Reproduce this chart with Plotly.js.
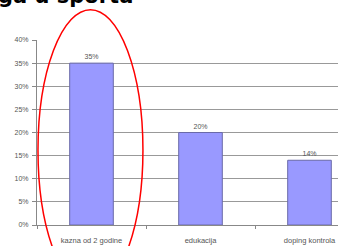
<!DOCTYPE html>
<html>
<head>
<meta charset="utf-8">
<script src="https://cdn.plot.ly/plotly-3.0.1.min.js"></script>
<style>
html,body{margin:0;padding:0;overflow:hidden;background:#fff;}
#chart{width:370px;height:246px;}
</style>
</head>
<body>
<div id="chart"></div>
<script>
const categories = ["kazna od 2 godine", "edukacija", "doping kontrola"];
const values = [35, 20, 14];
const valueLabels = ["35%", "20%", "14%"];
const yTickValues = [0, 5, 10, 15, 20, 25, 30, 35, 40];
const titleText = "ga u sporta";

const trace = {
  type: "bar",
  x: categories,
  y: values,
  text: valueLabels,
  textposition: "outside",
  cliponaxis: false,
  textfont: {family: "Liberation Sans, Arial, sans-serif", size: 7, color: "#555"},
  marker: {color: "#9999ff", line: {color: "#6a6aa8", width: 1}},
  hoverinfo: "none"
};

const layout = {
  width: 370,
  height: 246,
  margin: {l: 37, r: 6, t: 40, b: 21},
  paper_bgcolor: "#fff",
  plot_bgcolor: "#fff",
  showlegend: false,
  bargap: 0.6,
  font: {family: "Liberation Sans, Arial, sans-serif", size: 7, color: "#555"},
  xaxis: {
    type: "category",
    showline: true, linecolor: "#888", linewidth: 1,
    ticks: "outside", tickson: "boundaries", ticklen: 3, tickcolor: "#888",
    showgrid: false,
    tickfont: {size: 7.5, color: "#555"},
    ticklabelstandoff: 8,
    fixedrange: true
  },
  yaxis: {
    range: [0, 40],
    tickvals: yTickValues,
    ticktext: yTickValues.map(v => v + "%"),
    showline: true, linecolor: "#888", linewidth: 1,
    ticks: "outside", ticklen: 4, tickcolor: "#888",
    showgrid: true, gridcolor: "#999", gridwidth: 1,
    zeroline: false,
    tickfont: {size: 7, color: "#555"},
    ticklabelstandoff: 2,
    fixedrange: true
  },
  annotations: [{
    text: "<b>" + titleText + "</b>",
    xref: "paper", yref: "paper",
    x: -0.125, y: 1.16,
    xanchor: "left", yanchor: "bottom",
    showarrow: false,
    font: {family: "DejaVu Sans, Verdana, sans-serif", size: 21, color: "#000"}
  }],
  shapes: [{
    type: "circle",
    xref: "paper", yref: "paper",
    x0: 0.003, x1: 0.324,
    y0: -0.356, y1: 1.164,
    line: {color: "#ff0000", width: 1.5},
    layer: "above"
  }]
};

Plotly.newPlot("chart", [trace], layout, {displayModeBar: false, staticPlot: true});
</script>
</body>
</html>
